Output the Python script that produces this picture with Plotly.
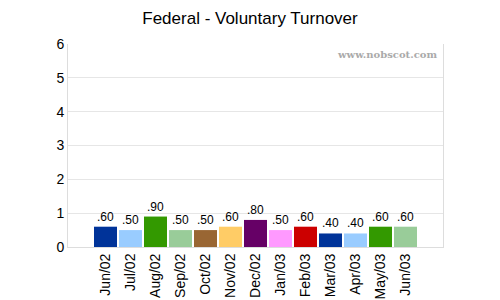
import plotly.graph_objects as go

categories = ["Jun/02", "Jul/02", "Aug/02", "Sep/02", "Oct/02", "Nov/02", "Dec/02",
              "Jan/03", "Feb/03", "Mar/03", "Apr/03", "May/03", "Jun/03"]
values = [0.60, 0.50, 0.90, 0.50, 0.50, 0.60, 0.80, 0.50, 0.60, 0.40, 0.40, 0.60, 0.60]
colors = ["#003399", "#99ccff", "#339900", "#99cc99", "#996633", "#ffcc66", "#660066",
          "#ff99ff", "#cc0000", "#003399", "#99ccff", "#339900", "#99cc99"]
labels = [f"{v:.2f}".lstrip("0") for v in values]

fig = go.Figure(go.Bar(
    x=categories, y=values, marker=dict(color=colors, line=dict(width=0)),
    text=labels, textposition="outside", cliponaxis=False,
    textfont=dict(family="Arial, Liberation Sans", size=12, color="#000000"),
))

fig.update_layout(
    width=500, height=300,
    margin=dict(l=68, r=57, t=44, b=53),
    paper_bgcolor="white", plot_bgcolor="white",
    bargap=0.08, showlegend=False,
    title=dict(text="Federal - Voluntary Turnover", x=0.5, xanchor="center",
               y=1 - 18 / 300, yanchor="middle",
               font=dict(family="Arial, Liberation Sans", size=17, color="#000000")),
    font=dict(family="Arial, Liberation Sans", size=13, color="#000000"),
    xaxis=dict(range=[-1.5, 13.5], tickangle=-90, showgrid=False, showline=True,
               linecolor="#dddddd", linewidth=1, mirror=False, ticks="",
               tickfont=dict(size=14), automargin=False),
    yaxis=dict(range=[0, 6], dtick=1, showgrid=True, gridcolor="#e6e6e6",
               showline=True, linecolor="#dddddd", mirror=True, ticks="",
               zeroline=False, tickfont=dict(size=14), automargin=False),
)

fig.add_annotation(text="<b>www.nobscot.com</b>", xref="paper", yref="paper",
                   x=0.99, y=0.985, xanchor="right", yanchor="top", showarrow=False,
                   font=dict(family="DejaVu Serif, Liberation Serif", size=10, color="#aaaaaa"))

fig.write_html("out.html")
